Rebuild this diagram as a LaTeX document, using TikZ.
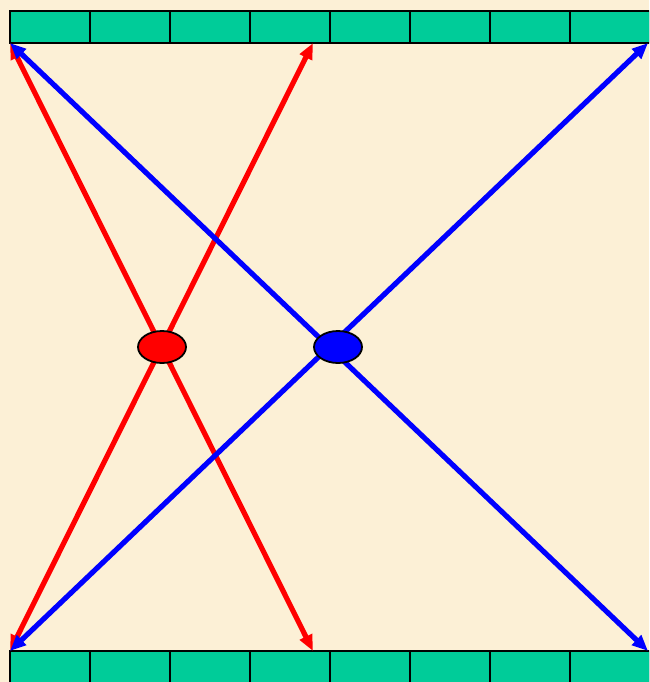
\documentclass[tikz,border=0pt]{standalone}
\usetikzlibrary{arrows.meta,shapes.geometric}
\definecolor{bg}{RGB}{252,240,214}
\definecolor{barfill}{RGB}{0,204,153}
\definecolor{redline}{RGB}{255,0,0}
\definecolor{blueline}{RGB}{0,0,255}
\begin{document}
\begin{tikzpicture}[x=1pt,y=-1pt,
  cell/.style={draw=black,line width=1.9pt,fill=barfill},
  conn/.style={line width=5.2pt,{Triangle[length=16pt,width=13pt]}-{Triangle[length=16pt,width=13pt]}},
  redconn/.style={conn,draw=redline,fill=redline},
  blueconn/.style={conn,draw=blueline,fill=blueline},
  blob/.style={ellipse,draw=black,line width=1.8pt,minimum width=48pt,minimum height=32pt,inner sep=0pt}]
\useasboundingbox (0,0) rectangle (649,682);
\clip (0,0) rectangle (649,682);
\fill[bg] (0,0) rectangle (649,682);
\foreach \i in {0,...,7}{
  \draw[cell] (10+80*\i,11) rectangle ++(80,32);
  \draw[cell] (10+80*\i,651) rectangle ++(80,34);
}
\coordinate (TL) at (10,43);
\coordinate (TM) at (313,43);
\coordinate (TR) at (648,43);
\coordinate (BL) at (10,651);
\coordinate (BM) at (313,651);
\coordinate (BR) at (648,651);
\draw[redconn] (TM) -- (BL);
\draw[redconn] (TL) -- (BM);
\draw[blueconn] (TL) -- (BR);
\draw[blueconn] (TR) -- (BL);
\node[blob,fill=redline] (R) at (162,347) {};
\node[blob,fill=blueline] (B) at (338,347) {};
\end{tikzpicture}
\end{document}
